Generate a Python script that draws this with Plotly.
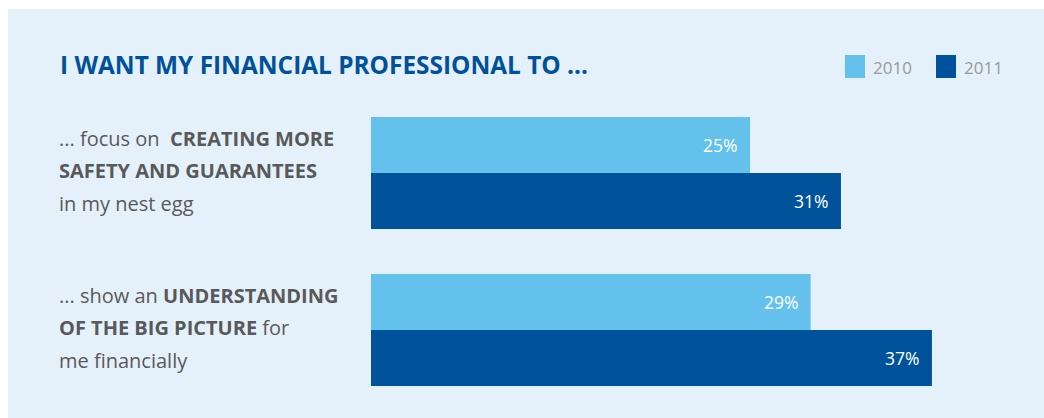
import plotly.graph_objects as go

# Survey answers (percent of respondents)
categories = ["safety", "big_picture"]
years = ["2010", "2011"]
values_2010 = [25, 29]
values_2011 = [31, 37]

# Left-hand statement text, one list entry per printed line
statement_lines = {
    "safety": ["... focus on  <b>CREATING MORE</b>",
               "<b>SAFETY AND GUARANTEES</b>",
               "in my nest egg"],
    "big_picture": ["... show an <b>UNDERSTANDING</b>",
                    "<b>OF THE BIG PICTURE</b> for",
                    "me financially"],
}

title_text = "I WANT MY FINANCIAL PROFESSIONAL TO ..."

W, H = 1044, 418
LIGHT = "#63c1ec"
DARK = "#00529b"
PANEL = "#e5f1fa"
GREY = "#58595b"
FONT = "Open Sans"

fig = go.Figure()
for name, vals, col in [(years[0], values_2010, LIGHT), (years[1], values_2011, DARK)]:
    fig.add_trace(go.Bar(
        y=categories, x=vals, name=name, orientation="h",
        marker=dict(color=col, line=dict(width=0)),
        hoverinfo="skip", showlegend=False,
    ))

def px(x):
    return x / W

def py(y):
    return 1 - y / H

# light panel behind everything
shapes = [dict(type="rect", xref="paper", yref="paper", layer="below",
               x0=px(8), x1=1, y0=0, y1=py(9), fillcolor=PANEL, line=dict(width=0))]

annotations = [dict(text=title_text, xref="paper", yref="paper", x=px(58), y=py(64),
                    xanchor="left", yanchor="middle", showarrow=False,
                    font=dict(family=FONT, size=24.4, color="#00519a", weight="bold"))]

# legend keys
for label, col, x0 in [(years[0], LIGHT, 845), (years[1], DARK, 936)]:
    shapes.append(dict(type="rect", xref="paper", yref="paper", x0=px(x0), x1=px(x0 + 20),
                       y0=py(78), y1=py(55), fillcolor=col, line=dict(width=0)))
    annotations.append(dict(text=label, xref="paper", yref="paper", x=px(x0 + 26), y=py(67),
                            xanchor="left", yanchor="middle", showarrow=False,
                            font=dict(family=FONT, size=17, color="#9a9a9a")))

# statement text beside each group
for cat in categories:
    for i, line in enumerate(statement_lines[cat]):
        annotations.append(dict(text=line, xref="paper", yref="y", x=px(57), y=cat,
                                yshift=35 - 32.5 * i, xanchor="left", yanchor="middle",
                                showarrow=False,
                                font=dict(family=FONT, size=20, color=GREY)))

# value labels inside the bar ends
for vals, off in [(values_2010, 0), (values_2011, 1)]:
    for cat, v in zip(categories, vals):
        annotations.append(dict(text=f"{v}%", x=v, y=cat, xref="x", yref="y",
                                xanchor="right", yanchor="middle", showarrow=False,
                                xshift=-11, yshift=28 - 56 * off,
                                font=dict(family=FONT, size=17.5, color="white")))

fig.update_layout(
    width=W, height=H,
    margin=dict(l=0, r=0, t=0, b=0),
    paper_bgcolor="white", plot_bgcolor="rgba(0,0,0,0)",
    barmode="group", bargap=0.287, bargroupgap=0,
    xaxis=dict(domain=[px(371), 1], range=[0, (W - 371) / 15.16],
               visible=False, fixedrange=True),
    yaxis=dict(domain=[0, 1], range=[(H - 173) / 157, -173 / 157],
               visible=False, fixedrange=True),
    shapes=shapes, annotations=annotations,
    showlegend=False,
)

fig.write_html("out.html")
